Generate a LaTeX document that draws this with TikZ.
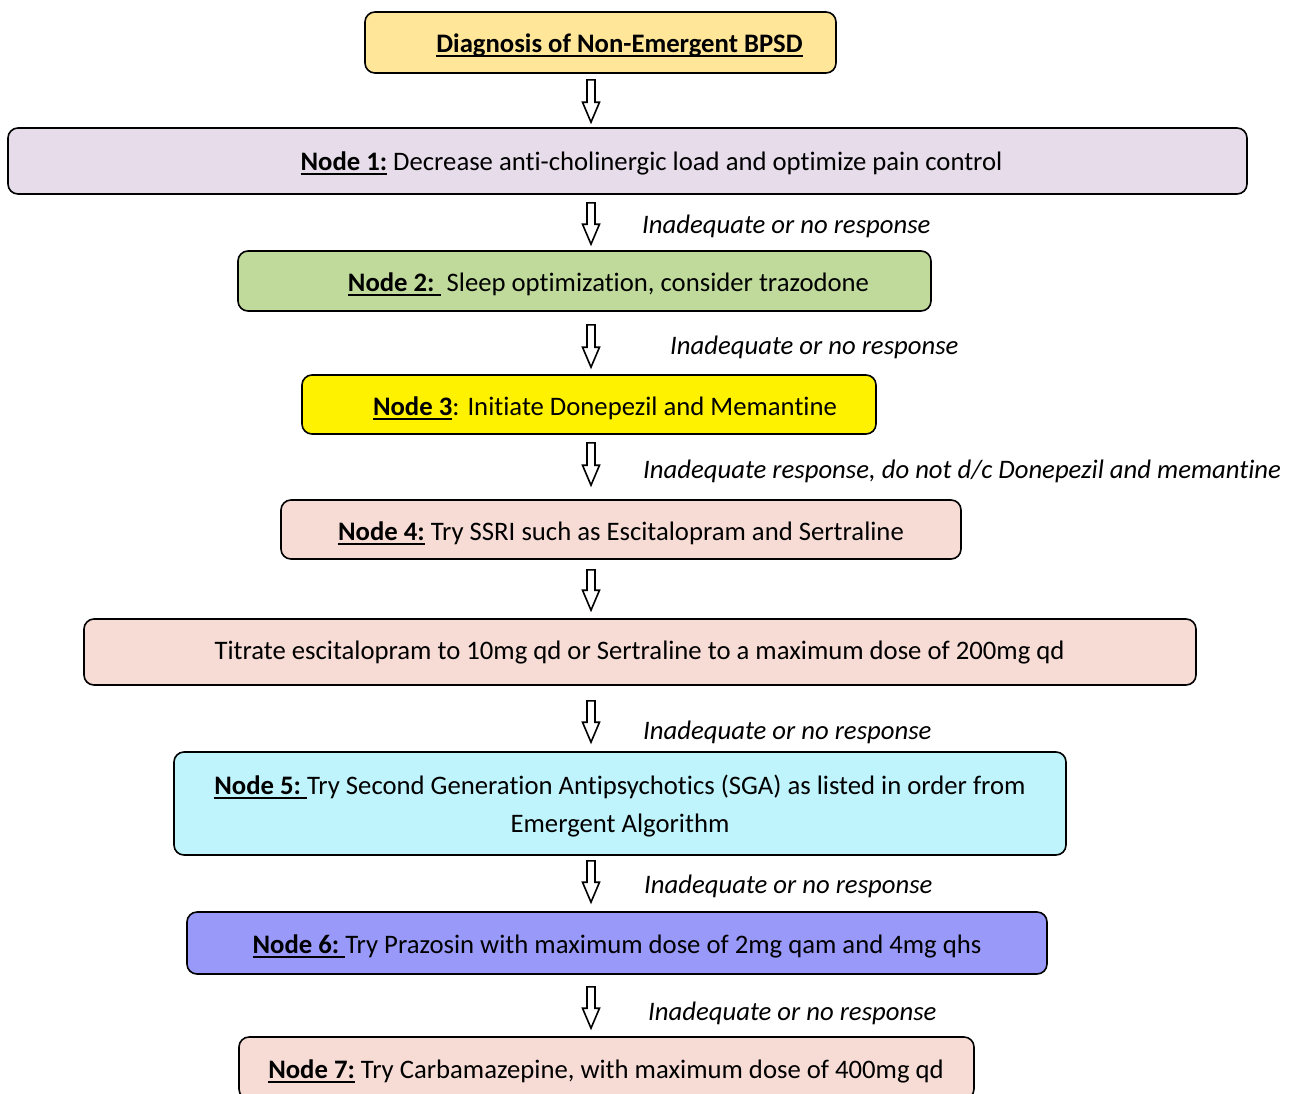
\documentclass[tikz,border=0pt]{standalone}
\usepackage{fontspec}
\setmainfont{Carlito}[Ligatures=NoCommon]
\usetikzlibrary{calc}
\definecolor{ctop}{HTML}{FFE699}
\definecolor{cone}{HTML}{E6DCEA}
\definecolor{ctwo}{HTML}{C0DA9C}
\definecolor{cthree}{HTML}{FFF200}
\definecolor{cpink}{HTML}{F7DCD6}
\definecolor{cfive}{HTML}{C0F4FD}
\definecolor{csix}{HTML}{9999FA}
\newcommand\myul[1]{\setbox0\hbox{#1}\rlap{\rule[-4.5pt]{\wd0}{1.8pt}}\box0}
\newcommand\barrow[4]{%
  \draw[line width=1.6pt,fill=white,line join=miter] let \p1=(ax |- #1.south), \p2=(ax |- #2.north) in
    (\x1-4,\y1-#3) -- (\x1+4,\y1-#3) -- (\x1+4,\y2+#4+20) -- (\x1+8.5,\y2+#4+20) -- (\x1,\y2+#4)
    -- (\x1-8.5,\y2+#4+20) -- (\x1-4,\y2+#4+20) -- cycle;}
\begin{document}
\begin{tikzpicture}[x=1pt,y=-1pt,
  every node/.style={font=\fontsize{26.7}{38}\selectfont, inner sep=0pt},
  box/.style={draw, line width=1.6pt, rounded corners=10pt},
  lbl/.style={anchor=west, font=\fontsize{26.7}{38}\selectfont\itshape}]
\useasboundingbox (0,0) rectangle (1293,1093);
\clip (0,0) rectangle (1293,1093);
\coordinate (ax) at (591,0);
% boxes
\node[box, fill=ctop, minimum width=471pt, minimum height=61pt] (top) at (600.5,42.5) {};
\node (ttop) at (619.5,45) {\textbf{\myul{Diagnosis of Non-Emergent BPSD}}};
\node[box, fill=cone, minimum width=1239pt, minimum height=66pt] (n1) at (627.5,161) {};
\node (tn1) at (651.5,163) {\textbf{\myul{Node 1:}} Decrease anti-cholinergic load and optimize pain control};
\node[box, fill=ctwo, minimum width=693pt, minimum height=60pt] (n2) at (584.5,281) {};
\node (tn2) at (608.5,284) {\textbf{\myul{Node 2:\ }}\ Sleep optimization, consider trazodone};
\node[box, fill=cthree, minimum width=574pt, minimum height=59pt] (n3) at (589,404.5) {};
\node (tn3) at (605,408) {\textbf{\myul{Node 3}}: Initiate Donepezil and Memantine};
\node[box, fill=cpink, minimum width=680pt, minimum height=59pt] (n4) at (621,529.5) {};
\node (tn4) at (621,533) {\textbf{\myul{Node 4:}} Try SSRI such as Escitalopram and Sertraline};
\node[box, fill=cpink, minimum width=1112pt, minimum height=66pt] (tt) at (640,652) {};
\node (ttt) at (639.5,653) {Titrate escitalopram to 10mg qd or Sertraline to a maximum dose of 200mg qd};
\node[box, fill=cfive, minimum width=892pt, minimum height=103pt] (n5) at (620,803.5) {};
\node[align=center] (tn5) at (620,806) {\textbf{\myul{Node 5:\ }}Try Second Generation Antipsychotics (SGA) as listed in order from\\Emergent Algorithm};
\node[box, fill=csix, minimum width=860pt, minimum height=62pt] (n6) at (617,943) {};
\node (tn6) at (617,946) {\textbf{\myul{Node 6:\ }}Try Prazosin with maximum dose of 2mg qam and 4mg qhs};
\node[box, fill=cpink, minimum width=735pt, minimum height=62pt] (n7) at (606.5,1068) {};
\node (tn7) at (606,1071) {\textbf{\myul{Node 7:}} Try Carbamazepine, with maximum dose of 400mg qd};
% arrows
\barrow{top}{n1}{6}{5}
\barrow{n1}{n2}{8}{6}
\barrow{n2}{n3}{13}{7}
\barrow{n3}{n4}{8}{14}
\barrow{n4}{tt}{10}{8}
\barrow{tt}{n5}{15}{9}
\barrow{n5}{n6}{5}{9}
\barrow{n6}{n7}{12}{8}
% labels
\node[lbl] (l1) at (642,226) {Inadequate or no response};
\node[lbl] (l2) at (670,347) {Inadequate or no response};
\node[lbl] (l3) at (643,471) {Inadequate response, do not d/c Donepezil and memantine};
\node[lbl] (l4) at (643,732) {Inadequate or no response};
\node[lbl] (l5) at (644,886) {Inadequate or no response};
\node[lbl] (l6) at (648,1013) {Inadequate or no response};
\end{tikzpicture}
\end{document}
